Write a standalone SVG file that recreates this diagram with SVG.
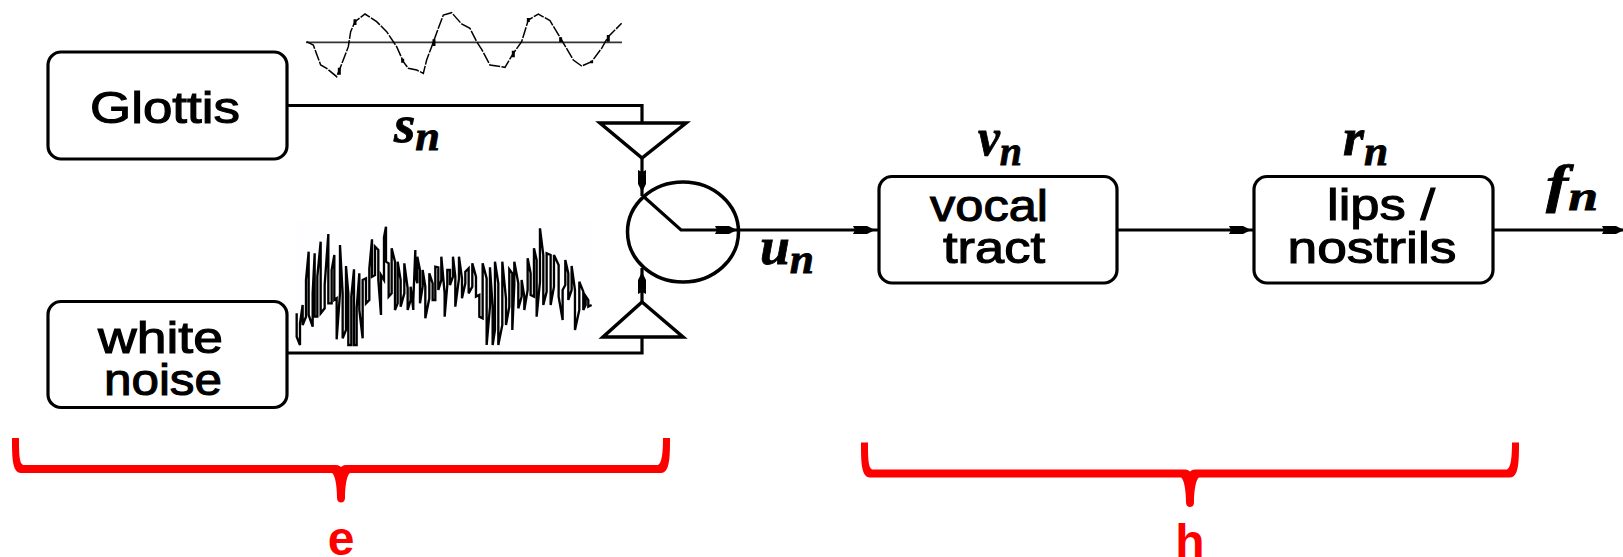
<svg xmlns="http://www.w3.org/2000/svg" width="1623" height="557" viewBox="0 0 1623 557">
<style>
.box{fill:#fff;stroke:#000;stroke-width:3.200}
.wire{fill:none;stroke:#000;stroke-width:3.200}
.lbl{font-family:"Liberation Sans",Arial,sans-serif;font-size:45px;fill:#000;stroke:#000;stroke-width:1.100;text-anchor:middle}
.math{font-family:"Liberation Serif","Times New Roman",serif;font-weight:bold;font-style:italic;fill:#000;stroke:#000;stroke-width:.8;font-size:52px}
.sub{font-size:42px}
.red{fill:#f00}
.redt{font-family:"Liberation Sans",Arial,sans-serif;font-weight:bold;font-size:48px;fill:#f00;text-anchor:middle}
</style>
<defs>
<marker id="ah" markerUnits="userSpaceOnUse" markerWidth="26" markerHeight="14" refX="12" refY="7" orient="auto" overflow="visible">
<path d="M1 3H15L23 7 15 11H1L3 7Z" fill="#000"/>
</marker>
<path id="brace" d="M0 0H7C7 14 7 25 11 27H324C327 27 329 29 329 29 329 29 331 27 334 27H646C650 25 651 14 651 0H658C658 18 658 35 649 35H338C335 37 333 47 333 60 333 66 325 66 325 60 325 47 323 37 320 35H9C0 35 0 18 0 0Z"/>
</defs>

<g id="connectors">
<path class="wire" d="M287 105.500H642V123"/>
<path class="wire" d="M287 353H642V337"/>
<path class="wire" d="M642 158V181L642 196" marker-mid="url(#ah)"/>
<path class="wire" d="M642 302V283L642 268" marker-mid="url(#ah)"/>
<path class="wire" d="M643 196L681 230H700"/>
<path class="wire" d="M700 230H726L864 230L879 230" marker-mid="url(#ah)"/>
<path class="wire" d="M1117 230H1240L1253 230" marker-mid="url(#ah)"/>
<path class="wire" d="M1493 230H1613L1623 230" marker-mid="url(#ah)"/>
</g>

<g id="glottis"><rect class="box" x="48" y="52" width="239" height="107" rx="13"/><text class="lbl" x="165" y="123" textLength="150" lengthAdjust="spacingAndGlyphs">Glottis</text></g>
<g id="white-noise"><rect class="box" x="48" y="301.500" width="239" height="106" rx="13"/><text class="lbl" x="160.500" y="353" textLength="125" lengthAdjust="spacingAndGlyphs">white</text><text class="lbl" x="163" y="395" textLength="118" lengthAdjust="spacingAndGlyphs">noise</text></g>
<g id="vocal-tract"><rect class="box" x="879" y="176.500" width="238" height="106.500" rx="13"/><text class="lbl" x="989" y="221" textLength="118" lengthAdjust="spacingAndGlyphs">vocal</text><text class="lbl" x="994" y="263" textLength="102" lengthAdjust="spacingAndGlyphs">tract</text></g>
<g id="lips-nostrils"><rect class="box" x="1254" y="176.500" width="239" height="106.500" rx="13"/><text class="lbl" x="1381" y="220" textLength="108" lengthAdjust="spacingAndGlyphs">lips /</text><text class="lbl" x="1372" y="263" textLength="169" lengthAdjust="spacingAndGlyphs">nostrils</text></g>

<g id="switch"><ellipse cx="683" cy="232" rx="55.500" ry="50" fill="none" stroke="#000" stroke-width="3.500"/></g>
<g id="gain-top"><path d="M600 123H686L642 158Z" fill="#fff" stroke="#000" stroke-width="3.500"/></g>
<g id="gain-bottom"><path d="M603 337H683L642 302Z" fill="#fff" stroke="#000" stroke-width="3.500"/></g>

<g id="voiced-wave" transform="translate(280 0) scale(.3333)">
<path d="M78 127H1026" fill="none" stroke="#333" stroke-width="5"/>
<path d="M80 125L100 135 122 195 140 205 170 230 182 200 205 140 212 95 225 65 255 42 290 65 320 95 350 140 370 185 385 205 410 210 430 220 440 180 455 140 475 85 490 45 515 38 545 72 570 85 590 125 605 148 630 195 675 202 700 160 725 125 745 60 775 42 810 62 845 120 880 180 905 198 935 185 965 145 985 110 1025 70" fill="none" stroke="#000" stroke-width="4.500" stroke-dasharray="34 4"/>
<path d="M225 58V75M178 203V224M368 176V188M462 118V138M700 152V172M745 54V66M842 112V126M935 182V190M985 105V125" fill="none" stroke="#000" stroke-width="9"/>
</g>

<g id="noise-wave">
<rect x="296" y="220" width="297" height="125" fill="#fefdff"/>
<path transform="translate(280 210) scale(.3333)" fill="none" stroke="#000" stroke-width="7" d="M50 310V380L60 405V340L68 285V345L78 320V210L86 125V315L98 350V250L104 130V320L112 320V200L122 95V310L134 295V225L145 72V280L155 280V180L163 135V270L170 265V388L180 250V105L188 250V385L198 360V168L205 250V405L214 405V260L222 178V405L230 405V295L238 190V300L248 385V210L258 205V280L268 270V175L276 88V200L285 195V110L295 120V210L303 315V195L312 210V82L318 50V155L326 160V260L335 250V115L345 155V300L353 280V155L362 210V290L373 250V160L383 235V300L392 270V230L400 300V270L406 120V195L412 220V140L420 180V280L428 230V180L436 230V325L448 265V190L458 220V270L466 270V170L475 172V240L484 210V140L494 250V320L502 225V180L510 180V225L519 200V140L526 200V290L537 205V140L546 205V265L556 220V185L566 175V250L577 230V160L588 200V260L598 255V320L608 325V160L620 205V405L630 290V172L638 290V405L645 360V155L655 220V405L667 345V155L678 265V345L688 290V178L697 190V360L703 225V155L715 220V295L725 260V210L733 260V300L743 240V145L752 190V255L762 260V115L770 150V320L780 215V55L790 135V285L800 245V130L812 135V285L822 230V135L836 165V260L848 330V240L856 225V150L865 190V270L875 240V168L885 240V360L898 300V215L910 245V300L917 285V258L925 270V290L935 285"/>
</g>

<g id="labels">
<text class="math" x="394" y="142" textLength="46" lengthAdjust="spacingAndGlyphs">s<tspan class="sub" dy="8">n</tspan></text>
<text class="math" x="978" y="155" textLength="44" lengthAdjust="spacingAndGlyphs">v<tspan class="sub" dy="10">n</tspan></text>
<text class="math" x="1343" y="155" textLength="45" lengthAdjust="spacingAndGlyphs">r<tspan class="sub" dy="10">n</tspan></text>
<text class="math" x="1546" y="202" textLength="52" lengthAdjust="spacingAndGlyphs">f<tspan class="sub" dy="8">n</tspan></text>
<text class="math" x="760" y="264" textLength="54" lengthAdjust="spacingAndGlyphs">u<tspan class="sub" dy="9">n</tspan></text>
</g>

<g id="bracket-e">
<use href="#brace" class="red" x="12" y="438"/>
<text class="redt" x="341" y="555">e</text>
</g>
<g id="bracket-h">
<use href="#brace" class="red" x="861" y="442.500"/>
<text class="redt" x="1190" y="558">h</text>
</g>
</svg>
